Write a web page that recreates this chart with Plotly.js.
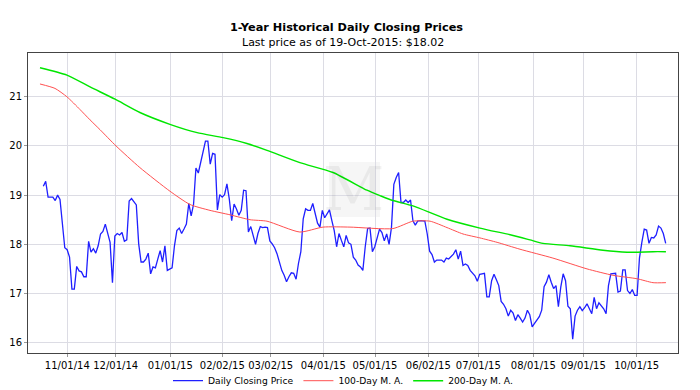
<!DOCTYPE html>
<html>
<head>
<meta charset="utf-8">
<script src="https://cdn.plot.ly/plotly-3.0.1.min.js"></script>
<style>html,body{margin:0;padding:0;background:#fff;}#chart{width:700px;height:390px;}</style>
</head>
<body>
<div id="chart"></div>
<script>
// Daily closing prices (one value per trading day, oldest first)
var closePrice = [
  19.18, 19.28, 18.96, 18.96, 18.96, 18.89, 19.00, 18.91, 18.41, 17.93, 17.89, 17.74, 17.09, 17.09, 17.55, 17.46, 17.44, 17.34, 17.34, 18.06,
  17.84, 17.91, 17.82, 17.97, 18.21, 18.26, 18.41, 18.24, 18.04, 17.22, 18.17, 18.22, 18.19, 18.24, 18.06, 18.09, 18.88, 18.93, 18.87, 18.80,
  18.01, 17.64, 17.64, 17.70, 17.82, 17.40, 17.54, 17.52, 17.70, 17.87, 17.64, 17.97, 17.47, 17.50, 17.52, 17.97, 18.28, 18.33, 18.22, 18.31,
  18.41, 18.83, 18.58, 18.81, 19.55, 19.45, 19.68,
  19.87, 20.10, 20.10, 19.63, 19.85, 19.83, 18.70, 19.01, 18.96, 19.01, 19.23, 18.92, 18.48, 18.82, 18.72, 18.59, 18.69, 19.10, 19.09, 18.25,
  18.36, 18.18, 18.00, 18.22, 18.36, 18.34, 18.35, 18.34, 18.07, 18.01, 17.93, 17.81, 17.64, 17.47, 17.37, 17.24, 17.34, 17.42, 17.41, 17.29,
  17.61, 17.85, 18.52, 18.72, 18.69, 18.69, 18.83, 18.65, 18.43, 18.35, 18.69, 18.54, 18.62, 18.70, 18.48, 18.28, 17.95, 18.22, 18.08, 17.95,
  18.18, 18.03, 18.00, 17.74, 17.68, 17.58, 17.54, 17.47, 17.95, 18.32, 18.33, 17.85, 17.95, 18.11,
  18.31, 18.24, 18.07, 18.21, 18.00, 18.34, 19.22, 19.36, 19.46, 18.85, 18.85, 18.90, 18.85, 18.90, 18.48, 18.39, 18.47, 18.48, 18.47, 18.47,
  18.21, 17.86, 17.79, 17.64, 17.68, 17.68, 17.68, 17.64, 17.72, 17.70, 17.75, 17.80, 17.89, 17.70, 17.86, 17.57, 17.60, 17.57, 17.47, 17.41,
  17.36, 17.25, 17.39, 17.40, 17.41, 16.93, 16.93, 17.26, 17.39, 17.28, 17.16, 16.84, 16.78, 16.69, 16.54, 16.66, 16.60, 16.45, 16.57, 16.50,
  16.42, 16.50, 16.66, 16.57,
  16.32, 16.39, 16.46, 16.53, 16.66, 17.14, 17.23, 17.38, 17.23, 17.10, 17.16, 16.73, 17.13, 17.40, 17.26, 16.74, 16.69, 16.07, 16.54, 16.66,
  16.73, 16.65, 16.71, 16.79, 16.69, 16.59, 16.92, 16.69, 16.81, 16.76, 16.69, 16.59, 17.16, 17.40, 17.41, 17.41, 17.03, 17.05, 17.48, 17.48,
  17.06, 17.00, 17.08, 16.96, 16.96, 17.72, 18.04, 18.31, 18.29, 18.02, 18.14, 18.13, 18.19, 18.37, 18.33, 18.22, 18.02
];

// 100-day moving average, sampled (trading-day index, value)
var ma100Day = [-1.4, 4.9, 9.9, 15.4, 19.6, 23.8, 30.5, 40.5, 53.1, 61.5, 69.9, 78.3, 86.7, 93.8, 107.6, 117.3, 128.6, 146.6, 155.0, 162.2, 169.3, 176.0, 183.1, 190.3, 199.9, 213.7, 228.0, 238.9, 249.0, 255.7, 261.1];
var ma100Val = [21.26, 21.17, 21.00, 20.74, 20.53, 20.33, 20.00, 19.56, 19.08, 18.81, 18.69, 18.60, 18.50, 18.47, 18.25, 18.35, 18.35, 18.32, 18.47, 18.47, 18.34, 18.21, 18.13, 18.04, 17.90, 17.72, 17.50, 17.37, 17.30, 17.22, 17.22];

// 200-day moving average, sampled (trading-day index, value)
var ma200Day = [-1.4, 9.9, 19.6, 30.1, 40.5, 53.1, 64.5, 75.4, 85.4, 93.8, 107.6, 121.5, 135.7, 141.2, 146.6, 155.0, 169.3, 183.1, 197.0, 204.1, 209.5, 220.9, 234.7, 244.8, 249.0, 255.7, 261.1];
var ma200Val = [21.59, 21.44, 21.20, 20.95, 20.68, 20.44, 20.27, 20.17, 20.05, 19.91, 19.66, 19.46, 19.10, 18.99, 18.89, 18.78, 18.51, 18.33, 18.18, 18.09, 18.02, 17.97, 17.88, 17.84, 17.84, 17.85, 17.85];

// Month tick marks (trading-day index) and their labels
var tickDay = [10.06, 30.36, 53.26, 75.06, 95.36, 117.42, 139.10, 161.45, 182.41, 205.48, 226.44, 248.84];
var tickLabel = ["11/01/14", "12/01/14", "01/01/15", "02/02/15", "03/02/15", "04/01/15", "05/01/15", "06/02/15", "07/01/15", "08/01/15", "09/01/15", "10/01/15"];

var dayIndex = closePrice.map(function (v, i) { return i; });

var FONT = "DejaVu Sans, Verdana, sans-serif";

var traces = [
  {x: dayIndex, y: closePrice, type: "scatter", mode: "lines", name: "Daily Closing Price",
   line: {color: "#1f1fff", width: 1.3}},
  {x: ma100Day, y: ma100Val, type: "scatter", mode: "lines", name: "100-Day M. A.",
   line: {color: "#ff5050", width: 1, shape: "spline", smoothing: 0.6}},
  {x: ma200Day, y: ma200Val, type: "scatter", mode: "lines", name: "200-Day M. A.",
   line: {color: "#00e600", width: 1.4, shape: "spline", smoothing: 0.6}}
];

var layout = {
  width: 700, height: 390,
  margin: {l: 28, r: 22, t: 53, b: 37, autoexpand: false},
  paper_bgcolor: "#ffffff", plot_bgcolor: "#ffffff",
  font: {family: FONT, size: 10, color: "#000"},
  title: {text: "<b>1-Year Historical Daily Closing Prices</b>", font: {family: FONT, size: 11.3, color: "#000"},
          x: 0.49, xanchor: "center", xref: "paper", y: 1 - 26.7 / 390, yanchor: "middle", yref: "container"},
  annotations: [
    {text: "Last price as of 19-Oct-2015: $18.02", xref: "paper", yref: "paper",
     x: (343 - 28) / 650, y: 1 + (53 - 42.7) / 300, xanchor: "center", yanchor: "middle", showarrow: false,
     font: {family: FONT, size: 11, color: "#000"}},
    {text: "M", xref: "paper", yref: "paper", x: (354 - 28) / 650, y: 1 - (189 - 53) / 300,
     xanchor: "center", yanchor: "middle", showarrow: false,
     font: {family: "DejaVu Serif, serif", size: 60, color: "rgba(0,0,0,0.05)"}}
  ],
  shapes: [
    {type: "rect", xref: "paper", yref: "paper", x0: (329 - 28) / 650, x1: (380 - 28) / 650,
     y0: 1 - (217 - 53) / 300, y1: 1 - (162 - 53) / 300, line: {width: 0}, fillcolor: "rgba(0,0,0,0.035)", layer: "below"}
  ],
  xaxis: {
    range: [-6.42, 266.16], tickmode: "array", tickvals: tickDay, ticktext: tickLabel,
    showgrid: true, gridcolor: "#dcdce4", gridwidth: 1, zeroline: false,
    showline: true, linecolor: "#444", linewidth: 1, mirror: true,
    ticks: "outside", ticklen: 3, tickcolor: "#999", tickfont: {family: FONT, size: 10, color: "#000"}
  },
  yaxis: {
    range: [15.79, 21.89], tickmode: "array", tickvals: [16, 17, 18, 19, 20, 21],
    showgrid: true, gridcolor: "#dcdce4", gridwidth: 1, zeroline: false,
    showline: true, linecolor: "#444", linewidth: 1, mirror: true,
    ticks: "outside", ticklen: 3, tickcolor: "#999", tickfont: {family: FONT, size: 10, color: "#000"}
  },
  showlegend: true,
  legend: {orientation: "h", xref: "paper", x: (343 - 28) / 650, xanchor: "center",
           yref: "container", y: 1 - 380.7 / 390, yanchor: "middle",
           font: {family: FONT, size: 9.2, color: "#000"}, bgcolor: "rgba(0,0,0,0)", tracegroupgap: 0}
};

Plotly.newPlot("chart", traces, layout, {staticPlot: true, displayModeBar: false});
</script>
</body>
</html>
